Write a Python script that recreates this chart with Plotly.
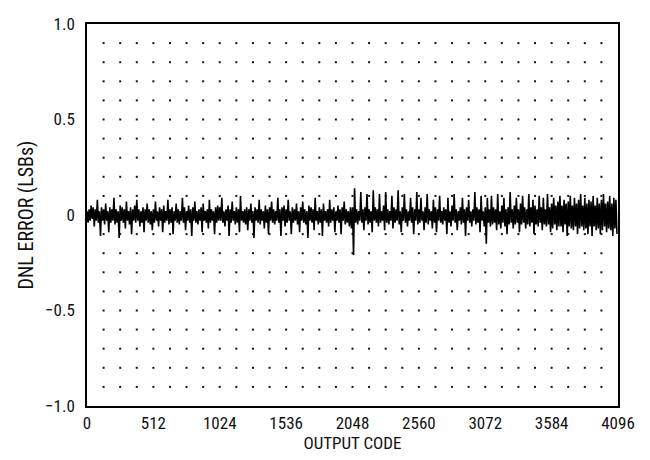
import numpy as np
import plotly.graph_objects as go

# DNL error in hundredths of an LSB, one value every 8 output codes
CODE_STEP = 8
dnl_0000 = [2,-4,3,-3,5,-2,4,-6,3,-3,8,-4,2,-11,4,-3,
            3,-5,6,-3,2,-9,4,-4,3,-3,9,-5,3,-4,2,-12,
            5,-3,4,-4,3,-7,7,-3,2,-5,4,-10,3,-3,5,-4,
            8,-3,3,-6,2,-4,4,-9,3,-3,6,-4,3,-5,2,-8]
dnl_0512 = [3,-4,7,-3,2,-6,4,-3,3,-9,5,-4,2,-3,8,-5,
            3,-4,4,-10,2,-3,6,-4,3,-5,2,-3,9,-4,4,-8,
            2,-3,5,-4,3,-11,4,-3,7,-4,2,-5,3,-3,4,-9,
            6,-3,2,-4,3,-7,8,-4,3,-3,2,-10,4,-4,5,-3]
dnl_1024 = [4,-3,9,-4,2,-6,3,-3,5,-11,3,-4,7,-3,2,-5,
            4,-4,3,-9,10,-3,2,-4,3,-5,4,-8,3,-3,6,-4,
            2,-12,4,-3,3,-4,8,-5,3,-3,2,-7,5,-4,3,-10,
            4,-3,7,-4,3,-5,2,-3,9,-4,3,-11,4,-3,5,-6]
dnl_1536 = [3,-4,8,-3,2,-10,4,-4,3,-3,6,-5,2,-9,4,-3,
            7,-4,3,-5,2,-12,5,-3,4,-4,3,-8,9,-3,2,-5,
            4,-4,3,-11,6,-3,2,-4,3,-6,8,-4,3,-3,4,-9,
            2,-3,5,-4,3,-10,4,-3,7,-5,3,-4,2,-6,4,-7]
dnl_2048 = [4,-21,14,-4,3,-5,2,-3,12,-4,3,-8,4,-3,11,-5,
            3,-4,2,-9,13,-3,4,-4,3,-6,11,-4,2,-3,5,-8,
            12,-4,3,-5,2,-3,10,-7,4,-4,3,-3,13,-5,2,-9,
            4,-3,11,-4,3,-6,2,-3,9,-4,4,-10,3,-3,12,-5]
dnl_2560 = [3,-4,9,-3,2,-8,4,-4,11,-5,3,-3,2,-7,8,-4,
            4,-9,3,-3,10,-4,2,-5,4,-3,3,-10,9,-4,2,-6,
            5,-3,11,-4,3,-8,2,-3,4,-5,9,-4,3,-11,4,-3,
            8,-4,2,-6,3,-3,12,-5,4,-4,3,-9,10,-3,2,-6]
dnl_3072 = [4,-15,9,-4,3,-6,10,-5,4,-4,3,-8,11,-5,2,-7,
            5,-4,9,-6,3,-10,4,-5,12,-4,3,-7,5,-5,9,-4,
            3,-9,6,-5,10,-4,4,-7,3,-5,11,-6,4,-4,8,-10,
            5,-5,3,-6,10,-4,4,-8,9,-5,3,-6,11,-5,4,-9]
dnl_3584 = [6,-7,9,-5,5,-8,7,-6,10,-6,5,-9,8,-5,6,-11,
            7,-6,10,-7,5,-8,9,-6,6,-10,8,-7,11,-6,5,-8,
            9,-7,6,-10,8,-6,7,-11,10,-6,5,-8,9,-7,6,-10,
            8,-8,11,-6,6,-9,7,-7,10,-8,6,-11,9,-7,8,-10]

x_tick_vals = [0, 512, 1024, 1536, 2048, 2560, 3072, 3584, 4096]
x_tick_text = ["0", "512", "1024", "1536", "2048", "2560", "3072", "3584", "4096"]
y_tick_vals = [-1.0, -0.5, 0, 0.5, 1.0]
y_tick_text = ["\u22121.0", "\u22120.5", "0", "0.5", "1.0"]

dnl = np.array(dnl_0000 + dnl_0512 + dnl_1024 + dnl_1536 +
               dnl_2048 + dnl_2560 + dnl_3072 + dnl_3584) / 100.0
codes = np.arange(len(dnl)) * CODE_STEP

# dotted lattice background grid (every 128 codes, every 0.1 LSB)
gx, gy = np.meshgrid(np.arange(128, 4096, 128), np.round(np.arange(-0.9, 0.95, 0.1), 2))

family = "Liberation Sans Narrow, Roboto Condensed, Arial Narrow, Liberation Sans, sans-serif"
font = dict(family=family, size=17, color="#111")
ytitle_font = dict(family=family, size=20, color="#111")

fig = go.Figure()
fig.add_trace(go.Scatter(x=gx.ravel(), y=gy.ravel(), mode="markers",
                         marker=dict(symbol="square", size=2, color="#111"),
                         hoverinfo="skip", showlegend=False))
fig.add_trace(go.Scatter(x=codes, y=dnl, mode="lines",
                         line=dict(color="black", width=1.6), showlegend=False))

# page body has an 8px margin, so the figure is sized to fit the 650x460 window
fig.update_layout(
    width=642, height=452,
    margin=dict(l=79, r=32, t=6, b=54),
    plot_bgcolor="white", paper_bgcolor="white",
    font=font,
)
fig.update_xaxes(range=[0, 4096], tickvals=x_tick_vals, ticktext=x_tick_text,
                 showgrid=False, zeroline=False, showline=True, mirror=True,
                 linecolor="black", linewidth=1.5, ticks="", ticklabelstandoff=1,
                 ticklabeloverflow="allow",
                 title=dict(text="OUTPUT CODE", standoff=3, font=font))
fig.update_yaxes(range=[-1, 1], tickvals=y_tick_vals, ticktext=y_tick_text,
                 showgrid=False, zeroline=False, showline=True, mirror=True,
                 linecolor="black", linewidth=1.5, ticks="", ticklabelstandoff=7,
                 ticklabeloverflow="allow",
                 title=dict(text="DNL ERROR (LSBs)", standoff=6, font=ytitle_font))

fig.write_html("out.html")
